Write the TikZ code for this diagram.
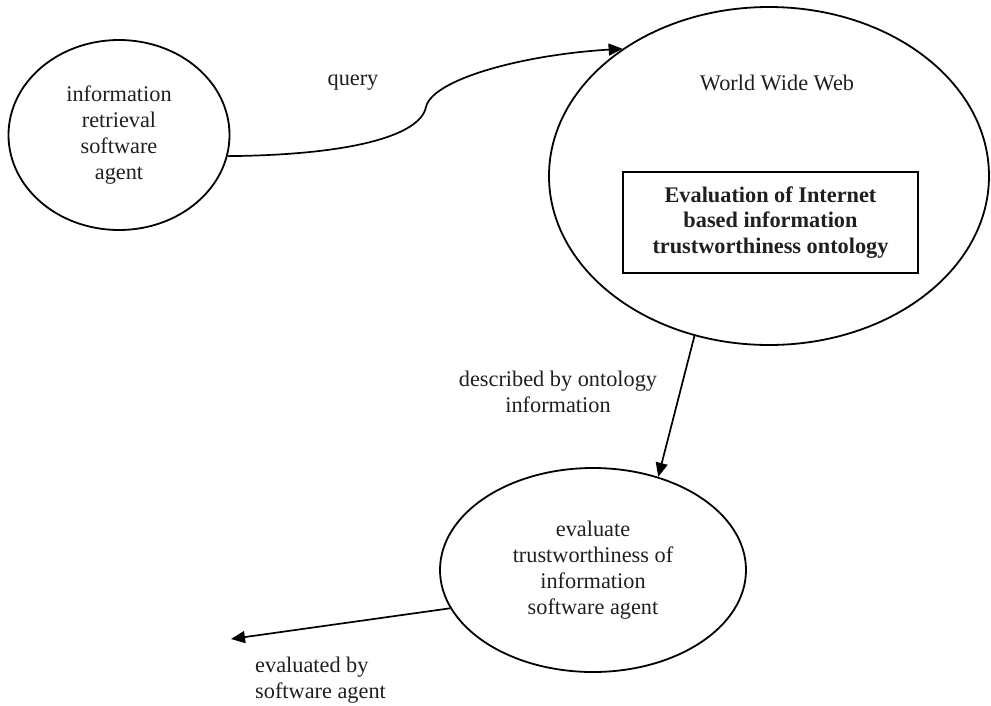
\documentclass[tikz,border=0pt]{standalone}
\usepackage{fontspec}
\setmainfont{Liberation Serif}
\usetikzlibrary{shapes.geometric,arrows.meta}
\tikzset{
  txt/.style={text=black!88, font=\fontsize{22.3}{25.8}\selectfont, inner sep=0pt},
  bubble/.style={draw, ellipse, line width=1.8pt, inner sep=0pt, align=center, txt},
  conn/.style={line width=1.7pt, -{Triangle[length=14pt,width=12pt]}},
  framebox/.style={draw, line width=1.8pt, minimum width=295pt, minimum height=101pt, align=center, txt, font=\fontsize{22.3}{25.8}\selectfont\bfseries}
}
\begin{document}
\begin{tikzpicture}[x=1pt,y=-1pt]
\useasboundingbox (0,0) rectangle (991,705);
\node[bubble, minimum width=221pt, minimum height=190pt] (irsa) at (119,135) {information\\retrieval\\software\\agent};
\node[bubble, minimum width=440pt, minimum height=338pt] (www) at (769,176) {};
\node[txt] (wwwlabel) at (777,83) {World Wide Web};
\node[framebox] (onto) at (770.5,222.5) {Evaluation of Internet\\based information\\trustworthiness ontology};
\node[bubble, minimum width=306pt, minimum height=204pt] (eval) at (593,570) {evaluate\\trustworthiness of\\information\\software agent};
\node[txt] (qlabel) at (353,83) {query};
\node[txt, align=center] (dlabel) at (558,392) {described by ontology\\information};
\node[txt, align=left, anchor=west] (elabel) at (255,680) {evaluated by\\software agent};
\coordinate (out) at (231,639);
\coordinate (kink) at (426,107);
\draw[conn] (irsa.-11) .. controls (350,155) and (420,136) .. (kink) .. controls (432,80) and (520,55) .. (www.139.7);
\draw[conn] (www.-115) -- (eval.55.5);
\draw[conn] (eval.195.3) -- (out);
\end{tikzpicture}
\end{document}
